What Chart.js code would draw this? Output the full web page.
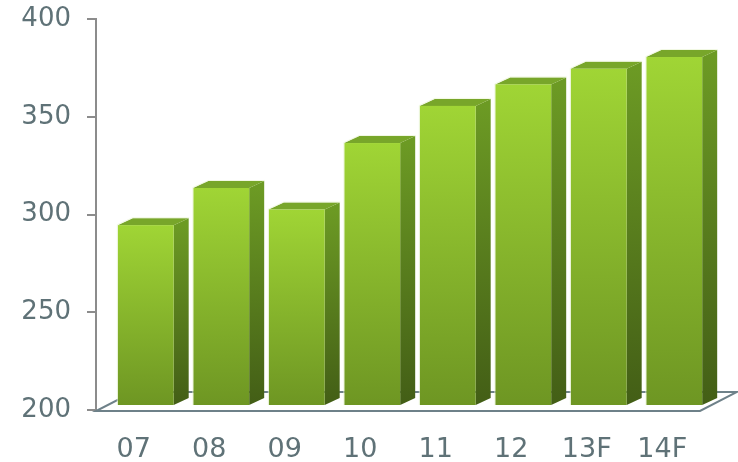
<!DOCTYPE html>
<html>
<head>
<meta charset="utf-8">
<script src="https://cdn.jsdelivr.net/npm/chart.js@4/dist/chart.umd.min.js"></script>
<style>
  html, body { margin: 0; padding: 0; background: #fff; }
  #wrap { width: 738px; height: 462px; }
</style>
</head>
<body>
<div id="wrap"><canvas id="chart" width="738" height="462"></canvas></div>
<script>
/* data */
const years = ['07', '08', '09', '10', '11', '12', '13F', '14F'];
const values = [292, 311, 300, 334, 353, 364, 372, 378];
const yTicks = [200, 250, 300, 350, 400];

/* 3d look */
const BAR_DX = 12, BAR_DY = -5;      // bar front sits a bit back on the floor
const DEPTH_X = 15, DEPTH_Y = -7;    // bar depth
const FLOOR_DX = 37, FLOOR_DY = -19; // floor depth

const floorPlugin = {
  id: 'floor3d',
  beforeDatasetsDraw(chart) {
    const { ctx, chartArea: a } = chart;
    ctx.save();
    ctx.strokeStyle = '#6e8189';
    ctx.lineWidth = 2;
    ctx.beginPath();
    ctx.moveTo(a.left, a.bottom + 1);
    ctx.lineTo(a.right, a.bottom + 1);
    ctx.lineTo(a.right + FLOOR_DX, a.bottom + 1 + FLOOR_DY);
    ctx.lineTo(a.left + FLOOR_DX, a.bottom + 1 + FLOOR_DY);
    ctx.closePath();
    ctx.stroke();
    ctx.restore();
  }
};

const barsPlugin = {
  id: 'bars3d',
  afterDatasetsDraw(chart) {
    const { ctx } = chart;
    const yScale = chart.scales.y;
    const basePx = yScale.getPixelForValue(yScale.min);
    const meta = chart.getDatasetMeta(0);
    ctx.save();
    meta.data.forEach((bar) => {
      const w = bar.width;
      const x0 = bar.x - w / 2 + BAR_DX;
      const x1 = x0 + w;
      const top = bar.y + BAR_DY;
      const bot = basePx + BAR_DY;

      // side
      const gs = ctx.createLinearGradient(0, top, 0, bot);
      gs.addColorStop(0, '#6c9a24');
      gs.addColorStop(1, '#435e16');
      ctx.fillStyle = gs;
      ctx.beginPath();
      ctx.moveTo(x1, top);
      ctx.lineTo(x1 + DEPTH_X, top + DEPTH_Y);
      ctx.lineTo(x1 + DEPTH_X, bot + DEPTH_Y);
      ctx.lineTo(x1, bot);
      ctx.closePath();
      ctx.fill();

      // top
      ctx.fillStyle = '#78a62a';
      ctx.beginPath();
      ctx.moveTo(x0, top);
      ctx.lineTo(x0 + DEPTH_X, top + DEPTH_Y);
      ctx.lineTo(x1 + DEPTH_X, top + DEPTH_Y);
      ctx.lineTo(x1, top);
      ctx.closePath();
      ctx.fill();

      // front
      const gf = ctx.createLinearGradient(0, top, 0, bot);
      gf.addColorStop(0, '#a0d535');
      gf.addColorStop(1, '#6e9623');
      ctx.fillStyle = gf;
      ctx.fillRect(x0, top, w, bot - top);

      // light edge
      ctx.strokeStyle = 'rgba(235,245,215,0.7)';
      ctx.lineWidth = 1;
      ctx.beginPath();
      ctx.moveTo(x0 - 0.5, bot);
      ctx.lineTo(x0 - 0.5, top - 0.5);
      ctx.lineTo(x0 + DEPTH_X, top + DEPTH_Y - 0.5);
      ctx.lineTo(x1 + DEPTH_X + 0.5, top + DEPTH_Y - 0.5);
      ctx.stroke();
    });
    ctx.restore();
  }
};

new Chart(document.getElementById('chart'), {
  type: 'bar',
  data: {
    labels: years,
    datasets: [{
      data: values,
      backgroundColor: 'rgba(0,0,0,0)',
      borderWidth: 0,
      barPercentage: 0.74,
      categoryPercentage: 1.0,
    }]
  },
  options: {
    responsive: false,
    animation: false,
    events: [],
    layout: { padding: { top: 19, right: 38, left: 0, bottom: 0 } },
    plugins: { legend: { display: false }, tooltip: { enabled: false } },
    scales: {
      x: {
        offset: true,
        grid: { display: false },
        border: { display: false },
        ticks: {
          color: '#5f7277',
          font: { family: "'DejaVu Sans', Verdana, sans-serif", size: 27 },
          padding: 16,
        },
        afterFit: (s) => { s.height = 52; s.paddingLeft = 0; s.paddingRight = 0; },
      },
      y: {
        min: 200,
        max: 400,
        afterBuildTicks: (s) => { s.ticks = yTicks.map(v => ({ value: v })); },
        grid: {
          display: true,
          drawOnChartArea: false,
          tickLength: 9,
          color: '#8c8c8c',
          lineWidth: 2,
        },
        border: { display: true, color: '#8c8c8c', width: 2 },
        ticks: {
          color: '#5f7277',
          font: { family: "'DejaVu Sans', Verdana, sans-serif", size: 26 },
          padding: 16,
        },
        afterFit: (s) => { s.width = 96; s.paddingTop = 0; s.paddingBottom = 0; },
      }
    }
  },
  plugins: [floorPlugin, barsPlugin]
});
</script>
</body>
</html>
